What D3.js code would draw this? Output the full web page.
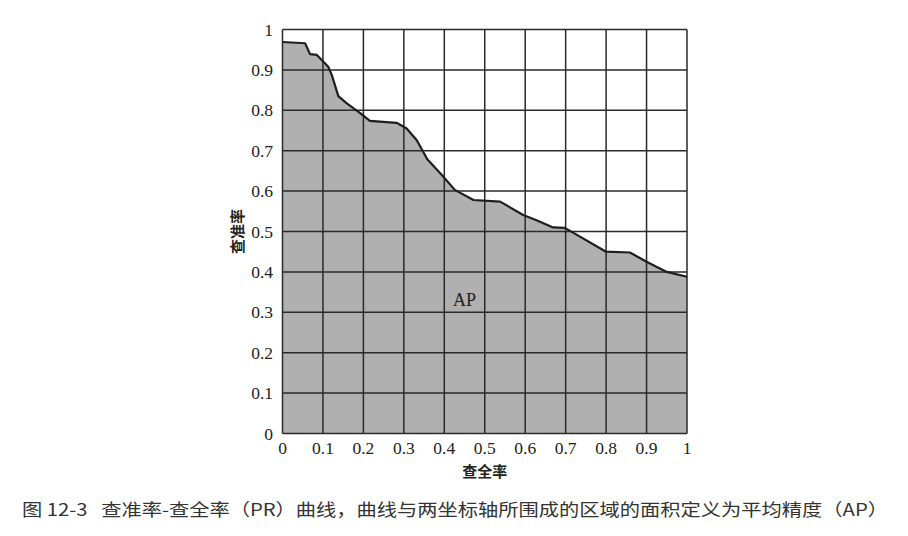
<!DOCTYPE html>
<html><head><meta charset="utf-8">
<script src="https://cdn.jsdelivr.net/npm/d3@7"></script>
<style>body{margin:0;background:#fff}svg{display:block}</style>
</head><body>
<script>
const recall = [0, 0.056, 0.068, 0.085, 0.113, 0.122, 0.138, 0.159, 0.192, 0.216, 0.282, 0.307, 0.332, 0.358, 0.394, 0.426, 0.472, 0.538, 0.595, 0.628, 0.669, 0.698, 0.80, 0.859, 0.90, 0.95, 1.0];
const precision = [0.969, 0.966, 0.939, 0.937, 0.908, 0.887, 0.835, 0.817, 0.793, 0.774, 0.769, 0.755, 0.726, 0.679, 0.640, 0.603, 0.578, 0.574, 0.541, 0.528, 0.510, 0.509, 0.450, 0.448, 0.425, 0.400, 0.388];
const xTicks = [0, 0.1, 0.2, 0.3, 0.4, 0.5, 0.6, 0.7, 0.8, 0.9, 1];
const yTicks = [0, 0.1, 0.2, 0.3, 0.4, 0.5, 0.6, 0.7, 0.8, 0.9, 1];
const xLabel = "查全率", yLabel = "查准率", areaLabel = "AP";
const caption = "图 12-3   查准率-查全率（PR）曲线，曲线与两坐标轴所围成的区域的面积定义为平均精度（AP）";

const W = 908, H = 536;
const svg = d3.select("body").append("svg").attr("width", W).attr("height", H);
const x = d3.scaleLinear().domain([0, 1]).range([282.5, 687]);
const y = d3.scaleLinear().domain([0, 1]).range([433.5, 29.5]);
const pts = recall.map((r, i) => [r, precision[i]]);

svg.append("path").datum(pts)
  .attr("d", d3.area().x(d => x(d[0])).y0(y(0)).y1(d => y(d[1])))
  .attr("fill", "#b0b0b0");

const g = svg.append("g");
g.selectAll(".vx").data(xTicks).join("line")
  .attr("x1", d => x(d)).attr("x2", d => x(d)).attr("y1", y(0)).attr("y2", y(1))
  .attr("stroke", "#2a2a2a").attr("stroke-width", 1.5);
g.selectAll(".hy").data(yTicks).join("line")
  .attr("y1", d => y(d)).attr("y2", d => y(d)).attr("x1", x(0)).attr("x2", x(1))
  .attr("stroke", "#2a2a2a").attr("stroke-width", 1.5);

svg.append("path").datum(pts)
  .attr("d", d3.line().x(d => x(d[0])).y(d => y(d[1])))
  .attr("fill", "none").attr("stroke", "#1e1e1e").attr("stroke-width", 2.2).attr("stroke-linejoin", "round");

const serif = "'Liberation Serif','DejaVu Serif',serif";
svg.selectAll(".xt").data(xTicks).join("text")
  .attr("x", d => x(d)).attr("y", 454).attr("text-anchor", "middle")
  .attr("font-family", serif).attr("font-size", 17.5).attr("fill", "#222")
  .text(d => d3.format("~g")(d));
svg.selectAll(".yt").data(yTicks).join("text")
  .attr("x", 273).attr("y", d => y(d) + 6).attr("text-anchor", "end")
  .attr("font-family", serif).attr("font-size", 17.5).attr("fill", "#222")
  .text(d => d3.format("~g")(d));

const cjk = "'Noto Sans CJK SC',sans-serif";
svg.append("text").attr("x", x(0.5)).attr("y", 477).attr("text-anchor", "middle")
  .attr("font-family", cjk).attr("font-weight", "bold").attr("font-size", 15).attr("fill", "#222").text(xLabel);
svg.append("text").attr("transform", `translate(243,${y(0.5)}) rotate(-90)`).attr("text-anchor", "middle")
  .attr("font-family", cjk).attr("font-weight", "bold").attr("font-size", 15).attr("fill", "#222").text(yLabel);
svg.append("text").attr("x", x(0.45)).attr("y", 306).attr("text-anchor", "middle")
  .attr("font-family", serif).attr("font-size", 18).attr("fill", "#222").text(areaLabel);

svg.append("text").attr("x", 22).attr("y", 516)
  .style("white-space", "pre")
  .attr("font-family", cjk).attr("font-size", 17).attr("fill", "#333")
  .attr("textLength", 866).attr("lengthAdjust", "spacingAndGlyphs").text(caption);
</script>
</body></html>
